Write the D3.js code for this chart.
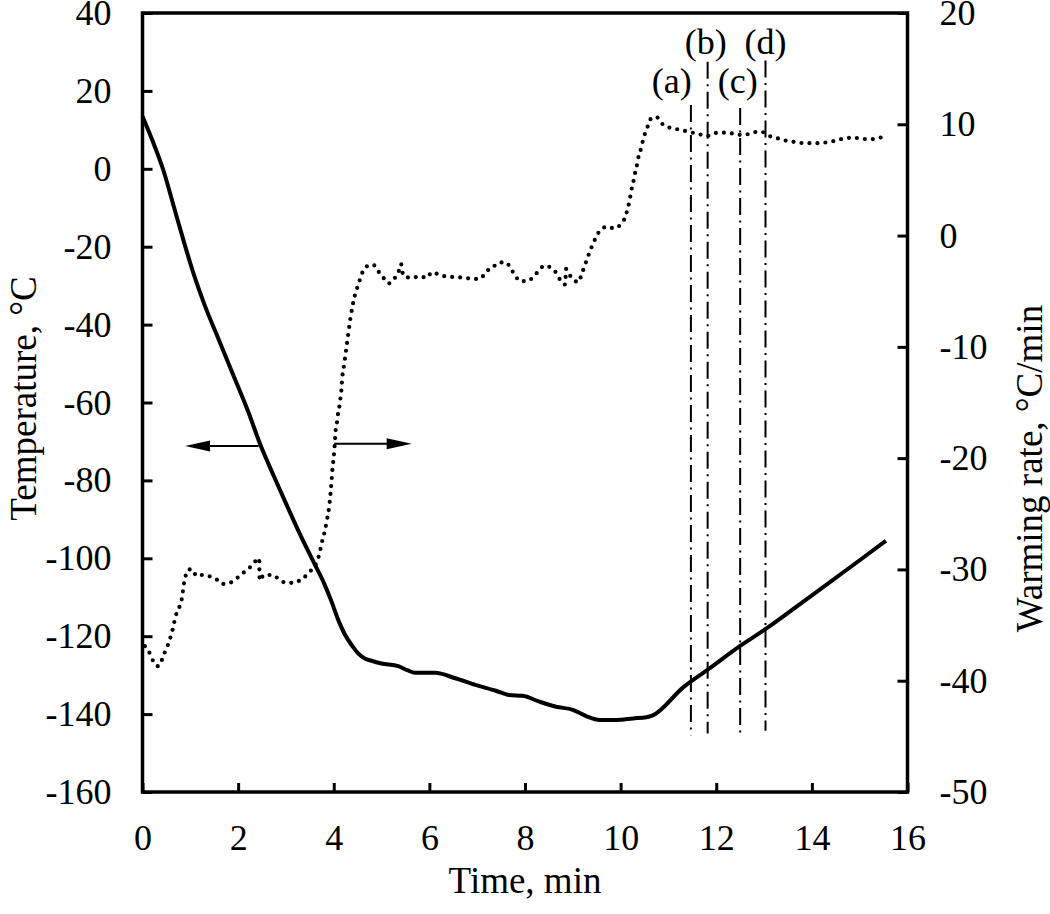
<!DOCTYPE html>
<html>
<head>
<meta charset="utf-8">
<script src="https://cdn.jsdelivr.net/npm/d3@7"></script>
<style>
  html, body { margin: 0; padding: 0; background: #fff; }
  svg { display: block; }
  text { font-family: "Liberation Serif", "Times New Roman", serif; fill: #000; }
</style>
</head>
<body>
<svg id="chart" width="1050" height="914"></svg>
<script>
// ---------------- data ----------------
const xTicks = [0, 2, 4, 6, 8, 10, 12, 14, 16];
const leftTicks = [-160, -140, -120, -100, -80, -60, -40, -20, 0, 20, 40];
const rightTicks = [-50, -40, -30, -20, -10, 0, 10, 20];

// Temperature (°C, left axis) vs time (min)
const tempTime = [0.00, 0.20, 0.44, 0.65, 0.86, 1.07, 1.30, 1.60, 1.90, 2.20, 2.47, 2.75, 3.04, 3.30, 3.60, 3.80, 3.95, 4.10, 4.23, 4.40, 4.51, 4.65, 4.79, 5.00, 5.35, 5.55, 5.70, 6.12, 6.54, 6.96, 7.39, 7.67, 7.95, 8.30, 8.65, 9.00, 9.28, 9.56, 9.91, 10.26, 10.54, 10.66, 11.32, 11.83, 12.50, 13.05, 14.00, 15.00, 15.55];
const tempValue = [13.5, 7.5, -0.5, -9.5, -18.5, -27.0, -35.0, -44.0, -53.0, -62.0, -71.0, -79.0, -87.0, -94.0, -101.5, -106.5, -111.0, -116.0, -119.5, -122.7, -124.4, -125.7, -126.3, -127.0, -127.7, -128.8, -129.4, -129.4, -130.8, -132.5, -134.0, -135.1, -135.3, -136.8, -138.1, -138.9, -140.5, -141.5, -141.5, -141.1, -140.8, -140.4, -133.0, -128.5, -122.5, -118.0, -109.5, -100.5, -95.5];

// Warming rate (°C/min, right axis) vs time (min)
const rateTime = [0.05, 0.16, 0.23, 0.33, 0.46, 0.53, 0.63, 0.70, 0.77, 0.82, 0.87, 0.90, 0.97, 1.04, 1.13, 1.25, 1.39, 1.55, 1.67, 1.83, 1.97, 2.11, 2.25, 2.35, 2.44, 2.45, 2.54, 2.72, 2.86, 3.00, 3.16, 3.32, 3.46, 3.56, 3.64, 3.70, 3.75, 3.81, 3.86, 3.90, 3.93, 3.95, 3.97, 4.00, 4.02, 4.04, 4.07, 4.09, 4.12, 4.14, 4.16, 4.17, 4.22, 4.28, 4.35, 4.44, 4.49, 4.54, 4.59, 4.68, 4.82, 4.93, 5.04, 5.15, 5.28, 5.36, 5.41, 5.43, 5.49, 5.65, 5.79, 5.95, 6.05, 6.25, 6.42, 6.59, 6.75, 6.92, 7.08, 7.17, 7.32, 7.44, 7.60, 7.70, 7.79, 7.90, 8.03, 8.17, 8.28, 8.41, 8.56, 8.67, 8.75, 8.84, 8.86, 8.91, 9.03, 9.11, 9.18, 9.24, 9.29, 9.35, 9.41, 9.48, 9.56, 9.72, 9.86, 10.00, 10.09, 10.14, 10.18, 10.21, 10.24, 10.28, 10.31, 10.35, 10.38, 10.43, 10.47, 10.52, 10.58, 10.65, 10.77, 10.88, 11.02, 11.19, 11.35, 11.65, 11.81, 11.95, 12.12, 12.30, 12.47, 12.65, 12.79, 12.96, 13.14, 13.32, 13.49, 13.67, 13.84, 14.05, 14.26, 14.47, 14.65, 14.86, 15.04, 15.21, 15.42, 15.60];
const rateValue = [-36.9, -37.6, -38.3, -38.7, -37.5, -36.8, -35.4, -34.1, -33.4, -32.7, -31.2, -30.6, -30.0, -30.0, -30.6, -30.5, -30.6, -30.9, -31.3, -31.2, -30.8, -30.3, -29.8, -29.3, -29.0, -31.0, -30.5, -30.5, -30.9, -31.2, -31.2, -30.9, -30.4, -29.9, -29.4, -28.6, -27.6, -26.6, -25.5, -24.5, -23.3, -22.3, -21.1, -19.9, -18.8, -17.5, -16.7, -16.0, -15.3, -14.6, -13.9, -13.2, -11.5, -9.6, -7.4, -5.4, -4.7, -4.05, -3.4, -2.8, -2.6, -3.2, -3.8, -4.3, -3.8, -3.2, -2.55, -3.2, -3.7, -3.8, -3.65, -3.8, -3.3, -3.6, -3.7, -3.75, -3.8, -3.9, -3.85, -3.3, -2.9, -2.45, -2.4, -2.95, -3.55, -4.1, -4.1, -3.75, -3.2, -2.7, -2.95, -3.45, -4.1, -4.4, -3.0, -3.4, -4.0, -4.2, -3.55, -2.8, -2.2, -1.5, -0.85, -0.2, 0.4, 0.8, 0.65, 1.0, 1.6, 2.3, 3.0, 3.7, 4.4, 5.1, 5.8, 6.5, 7.2, 7.85, 8.6, 9.3, 9.95, 10.6, 10.6, 10.0, 9.7, 9.55, 9.4, 9.1, 8.95, 9.2, 9.25, 9.2, 9.05, 9.1, 9.3, 9.3, 8.9, 8.7, 8.5, 8.4, 8.3, 8.3, 8.35, 8.5, 8.7, 8.8, 8.7, 8.65, 8.8, 8.95];

// Marker lines (a)-(d): time, top and bottom (°C, left axis)
const markerLabels = ["(a)", "(b)", "(c)", "(d)"];
const markerTime = [11.47, 11.82, 12.50, 13.03];
const markerTop = [16.4, 27.5, 15.6, 27.8];
const markerBottom = [-145.4, -145.0, -145.4, -144.3];
const markerLabelTime = [11.07, 11.78, 12.45, 13.03];
const markerLabelTemp = [19.5, 29.5, 19.5, 29.5];

// Arrows: left arrow points to the temperature axis, right arrow to the warming-rate axis
const leftArrow = { from: 2.43, to: 0.89, temp: -71.2 };
const rightArrow = { from: 4.01, to: 5.63, rate: -18.7 };

// ---------------- layout ----------------
const W = 1050, H = 914;
const margin = { left: 142.5, right: 142.5, top: 13, bottom: 122 };
const iw = W - margin.left - margin.right;
const ih = H - margin.top - margin.bottom;

const svg = d3.select("#chart");
const g = svg.append("g").attr("transform", `translate(${margin.left},${margin.top})`);

const x = d3.scaleLinear().domain([0, 16]).range([0, iw]);
const yL = d3.scaleLinear().domain([-160, 40]).range([ih, 0]);
const yR = d3.scaleLinear().domain([-50, 20]).range([ih, 0]);

const fs = 36;

// axes
const axL = g.append("g")
  .call(d3.axisLeft(yL).tickValues(leftTicks).tickSize(-10).tickSizeOuter(0).tickPadding(31).tickFormat(d3.format("d")));
const axR = g.append("g").attr("transform", `translate(${iw},0)`)
  .call(d3.axisRight(yR).tickValues(rightTicks).tickSize(-10).tickSizeOuter(0).tickPadding(32).tickFormat(d3.format("d")));
const axB = g.append("g").attr("transform", `translate(0,${ih})`)
  .call(d3.axisBottom(x).tickValues(xTicks).tickSize(-9).tickSizeOuter(0).tickPadding(32).tickFormat(d3.format("d")));

[axL, axR, axB].forEach(a => {
  a.select(".domain").remove();
  a.selectAll(".tick line").attr("stroke", "#000").attr("stroke-width", 3);
  a.selectAll(".tick text")
    .style("font-family", '"Liberation Serif", "Times New Roman", serif')
    .style("font-size", fs + "px")
    .attr("fill", "#000");
});
// minus signs as plain hyphen
[axL, axR].forEach(a => a.selectAll(".tick text").text(d => String(d)));

// frame
g.append("rect")
  .attr("x", 0).attr("y", 0).attr("width", iw).attr("height", ih)
  .attr("fill", "none").attr("stroke", "#000").attr("stroke-width", 3.5);

// temperature line
const tempData = tempTime.map((t, i) => [t, tempValue[i]]);
g.append("path")
  .datum(tempData)
  .attr("fill", "none").attr("stroke", "#000").attr("stroke-width", 4)
  .attr("stroke-linejoin", "round")
  .attr("d", d3.line().x(d => x(d[0])).y(d => yL(d[1])).curve(d3.curveMonotoneX));

// warming rate dotted line
const rateData = rateTime.map((t, i) => [t, rateValue[i]]);
g.append("path")
  .datum(rateData)
  .attr("fill", "none").attr("stroke", "#000").attr("stroke-width", 4.2)
  .attr("stroke-linecap", "round")
  .attr("stroke-dasharray", "0 8")
  .attr("d", d3.line().x(d => x(d[0])).y(d => yR(d[1])).curve(d3.curveMonotoneX));

// marker lines
markerTime.forEach((t, i) => {
  g.append("line")
    .attr("x1", x(t)).attr("x2", x(t))
    .attr("y1", yL(markerTop[i])).attr("y2", yL(markerBottom[i]))
    .attr("stroke", "#000").attr("stroke-width", 2)
    .attr("stroke-dasharray", "17 5.5 2 5.5");
  g.append("text")
    .attr("x", x(markerLabelTime[i])).attr("y", yL(markerLabelTemp[i]))
    .attr("text-anchor", "middle")
    .style("font-size", fs + "px")
    .text(markerLabels[i]);
});

// arrows
function arrow(x1, x2, yy) {
  const dir = Math.sign(x2 - x1);
  const headLen = 25, headHalf = 5.5;
  g.append("line")
    .attr("x1", x1).attr("x2", x2 - dir * headLen * 0.6)
    .attr("y1", yy).attr("y2", yy)
    .attr("stroke", "#000").attr("stroke-width", 2);
  g.append("path")
    .attr("d", `M${x2},${yy} L${x2 - dir * headLen},${yy - headHalf} L${x2 - dir * headLen},${yy + headHalf} Z`)
    .attr("fill", "#000");
}
arrow(x(leftArrow.from), x(leftArrow.to), yL(leftArrow.temp));
arrow(x(rightArrow.from), x(rightArrow.to), yR(rightArrow.rate));

// axis titles
svg.append("text")
  .attr("x", margin.left + iw / 2).attr("y", 893)
  .attr("text-anchor", "middle")
  .style("font-size", "37px")
  .text("Time, min");

svg.append("text")
  .attr("transform", `translate(36,${margin.top + ih / 2 - 4}) rotate(-90)`)
  .attr("text-anchor", "middle")
  .style("font-size", "37px")
  .text("Temperature, °C");

svg.append("text")
  .attr("transform", `translate(1042,${margin.top + ih / 2 + 66}) rotate(-90)`)
  .attr("text-anchor", "middle")
  .style("font-size", "37px")
  .text("Warming rate, °C/min");
</script>
</body>
</html>
